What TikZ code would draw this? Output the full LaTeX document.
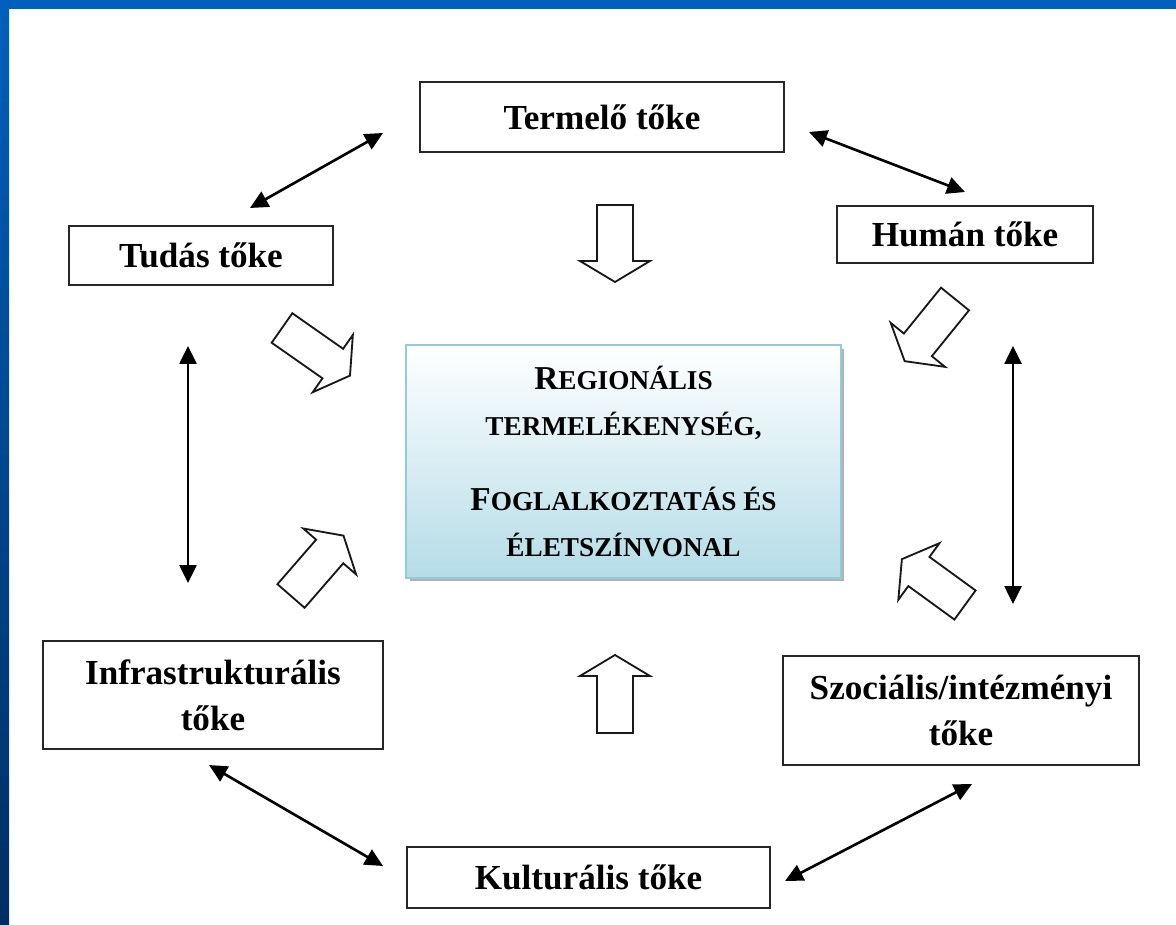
\documentclass[tikz,border=0pt]{standalone}
\usepackage{fontspec}
\setmainfont{Liberation Serif}
\usepackage{tikz}
\usetikzlibrary{arrows.meta,shadows}
\usepackage{xcolor}
\definecolor{keret}{RGB}{0,96,188}
\definecolor{keretsotet}{RGB}{0,46,98}
\definecolor{kozepkek}{RGB}{181,220,231}
\definecolor{kozepvonal}{RGB}{146,203,218}
\newcommand{\kiskap}[2]{{\fontsize{19}{26}\selectfont #1}{\fontsize{15.5}{26}\selectfont #2}}
\tikzset{
	toke/.style={draw=black!85, line width=0.9pt, fill=white, align=center, inner sep=0pt,
		font=\bfseries\fontsize{20}{26}\selectfont},
	dbl/.style={{Triangle[length=0.36cm,width=0.34cm]}-{Triangle[length=0.36cm,width=0.34cm]}, line width=1.5pt},
	nyil/.style={draw=black!90, fill=white, line width=1.05pt, line join=miter}
}

\begin{document}
\begin{tikzpicture}[x=0.02cm, y=-0.02cm]
					\useasboundingbox (0,0) rectangle (1176,925);
					\fill[white] (0,0) rectangle (1176,925);
					\fill[keret] (0,0) rectangle (1176,9);
					\shade[top color=keret, bottom color=keretsotet] (0,0) rectangle (9,925);

					\node[toke, minimum width=7.28cm, minimum height=1.4cm] (termelo) at (602,117) {Termelő tőke};
					\node[toke, minimum width=5.12cm, minimum height=1.14cm] (human) at (965,234.5) {Humán tőke};
					\node[toke, minimum width=5.28cm, minimum height=1.18cm] (tudas) at (201,255.5) {Tudás tőke};
					\node[toke, minimum width=6.8cm, minimum height=2.16cm] (infra) at (213,695) {Infrastrukturális\\tőke};
					\node[toke, minimum width=7.12cm, minimum height=2.18cm] (szoc) at (961,710.5) {Szociális/intézményi\\tőke};
					\node[toke, minimum width=7.26cm, minimum height=1.22cm] (kult) at (588.5,877.5) {Kulturális tőke};
					\node[draw=kozepvonal, line width=1.3pt, top color=white, bottom color=kozepkek,
						drop shadow={shadow xshift=0.07cm, shadow yshift=-0.07cm, fill=black!50, opacity=.6},
						minimum width=8.7cm, minimum height=4.66cm, align=center, inner sep=0pt,
						font=\bfseries\fontsize{19}{26}\selectfont] (kozep) at (623.5,461.5)
						{\kiskap{R}{EGIONÁLIS}\\\kiskap{}{TERMELÉKENYSÉG,}\\[17pt]\kiskap{F}{OGLALKOZTATÁS ÉS}\\\kiskap{}{ÉLETSZÍNVONAL}};

					\coordinate (tt1) at (250,208);  \coordinate (tt2) at (383,133);
					\coordinate (th1) at (809,132);  \coordinate (th2) at (965,192);
					\coordinate (ti1) at (188,346);  \coordinate (ti2) at (188,583);
					\coordinate (hs1) at (1013,346); \coordinate (hs2) at (1013,604);
					\coordinate (ik1) at (209,765);  \coordinate (ik2) at (383,866);
					\coordinate (sk1) at (972,784);  \coordinate (sk2) at (785,881);
					\foreach \p/\q in {tt1/tt2, th1/th2, ti1/ti2, hs1/hs2, ik1/ik2, sk1/sk2}{
						\draw[dbl] (\p) -- (\q);
					}

					\foreach \x/\y/\a/\l in {615/205/-90/77, 615/733/90/78, 282/328/-35/83, 291/596/49/80, 955/299/-129/80, 965/605/144/78}{
						\draw[nyil, shift={(\x,\y)}, rotate=\a] (0,-18) -- (\l-21,-18) -- (\l-21,-35) -- (\l,0) -- (\l-21,35) -- (\l-21,18) -- (0,18) -- cycle;
					}
				\end{tikzpicture}
\end{document}
